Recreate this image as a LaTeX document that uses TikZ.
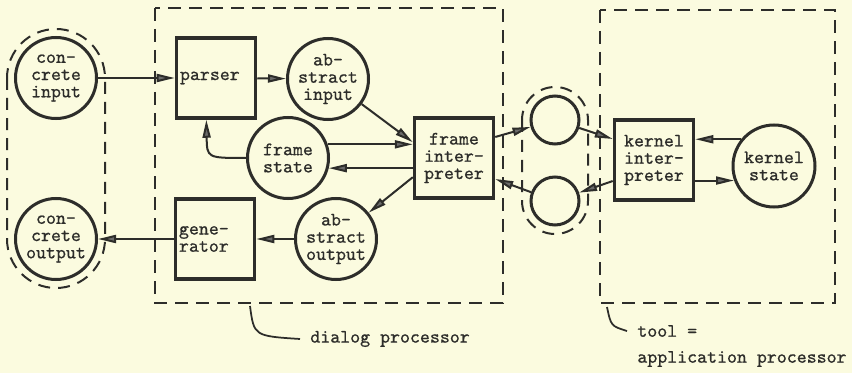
\documentclass[tikz,border=0pt]{standalone}
\usepackage{fontspec}
\newfontfamily\dgtt{Latin Modern Mono}[FakeBold=0.7]
\usepackage{xcolor}
\usepackage{tikz}
\usetikzlibrary{arrows.meta}
\definecolor{dgpaper}{RGB}{251,251,223}
\definecolor{dgink}{RGB}{45,45,42}
\tikzset{
  dgstate/.style={
    circle, draw=dgink, line width=0.6mm, minimum size=16.2mm, inner sep=0pt,
    text=dgink, align=center, font=\dgtt\fontsize{10.8}{9.8}\selectfont
  },
  dgport/.style={dgstate, minimum size=9.6mm},
  dgproc/.style={
    rectangle, draw=dgink, line width=0.7mm, minimum width=15.8mm, minimum height=16mm,
    inner sep=1pt, text=dgink, align=center, font=\dgtt\fontsize{10.8}{9.8}\selectfont
  },
  dgprocleft/.style={dgproc, text width=14.4mm, align=left},
  dgedge/.style={-{Triangle[length=3.6mm,width=1.6mm,fill=black!58]},draw=dgink,line width=0.4mm},
  dgframe/.style={draw=dgink,line width=0.4mm,dash pattern=on 2.6mm off 1.6mm},
  dghull/.style={draw=dgink,line width=0.4mm,dash pattern=on 2.4mm off 1.6mm},
  dgpointer/.style={draw=dgink,line width=0.35mm},
  dglabel/.style={text=dgink,inner sep=0pt,anchor=west,font=\dgtt\fontsize{10.8}{11}\selectfont}
}

\begin{document}
\begin{tikzpicture}[x=0.2mm,y=-0.2mm]
  \fill[dgpaper] (0,0) rectangle (852,373);
  % processes and data
  \node[dgstate] (cin) at (56,78) {con-\\crete\\input};
  \node[dgstate] (cout) at (56,239) {con-\\crete\\output};
  \node[dgprocleft] (parser) at (216,78) {parser};
  \node[dgprocleft] (gen) at (215,239) {gene-\\rator};
  \node[dgstate] (ain) at (328,79) {ab-\\stract\\input};
  \node[dgstate] (fstate) at (288,158) {frame\\state};
  \node[dgstate] (aout) at (336,239) {ab-\\stract\\output};
  \node[dgproc] (fint) at (454,158) {frame\\inter-\\preter};
  \node[dgport] (up) at (555,120) {};
  \node[dgport] (low) at (555,201) {};
  \node[dgproc] (kint) at (654,160) {kernel\\inter-\\preter};
  \node[dgstate,minimum size=16.4mm] (kstate) at (774,166) {kernel\\state};
  % groups
  \draw[dghull,rounded corners=9.8mm] ([shift={(-49,-49)}]cin.center) rectangle ([shift={(49,49)}]cout.center);
  \draw[dghull,rounded corners=6.6mm] ([shift={(-33,-33)}]up.center) rectangle ([shift={(33,33)}]low.center);
  \draw[dgframe] (155,8) rectangle (503,303);
  \draw[dgframe] (600,10) rectangle (835,303);
  \coordinate (dpfoot) at (250,306);
  \coordinate (toolfoot) at (607,307);
  \node[dglabel] (dplbl) at (310,339) {dialog processor};
  \node[dglabel] (toolA) at (637,331) {tool =};
  \node[dglabel] (toolB) at (637,359) {application processor};
  \draw[dgpointer] (dpfoot) .. controls (254,336) .. ([xshift=-2mm]dplbl.west);
  \draw[dgpointer] (toolfoot) .. controls (611,326) .. ([xshift=-2mm]toolA.west);
  % dialog processor
  \draw[dgedge] (cin) -- (parser);
  \draw[dgedge] (parser) -- (ain);
  \draw[dgedge] (ain) -- (fint.159);
  \draw[dgedge] (fstate.19) -- (fstate.19 -| fint.west);
  \draw[dgedge] (fint.west |- fstate.-14) -- (fstate.-14);
  \draw[dgedge] (fstate.west) .. controls (207,158) .. (parser.-103);
  \draw[dgedge] (fint.-155) -- (aout);
  \draw[dgedge] (aout) -- (gen);
  \draw[dgedge] (gen) -- (cout);
  % interface
  \draw[dgedge] (fint.27) -- (up);
  \draw[dgedge] (low) -- (fint.-27);
  \draw[dgedge] (up) -- (kint.153);
  \draw[dgedge] (kint.-153) -- (low);
  % tool
  \draw[dgedge] (kstate.141) -- (kstate.141 -| kint.east);
  \draw[dgedge] (kint.east |- kstate.200) -- (kstate.200);
\end{tikzpicture}
\end{document}
